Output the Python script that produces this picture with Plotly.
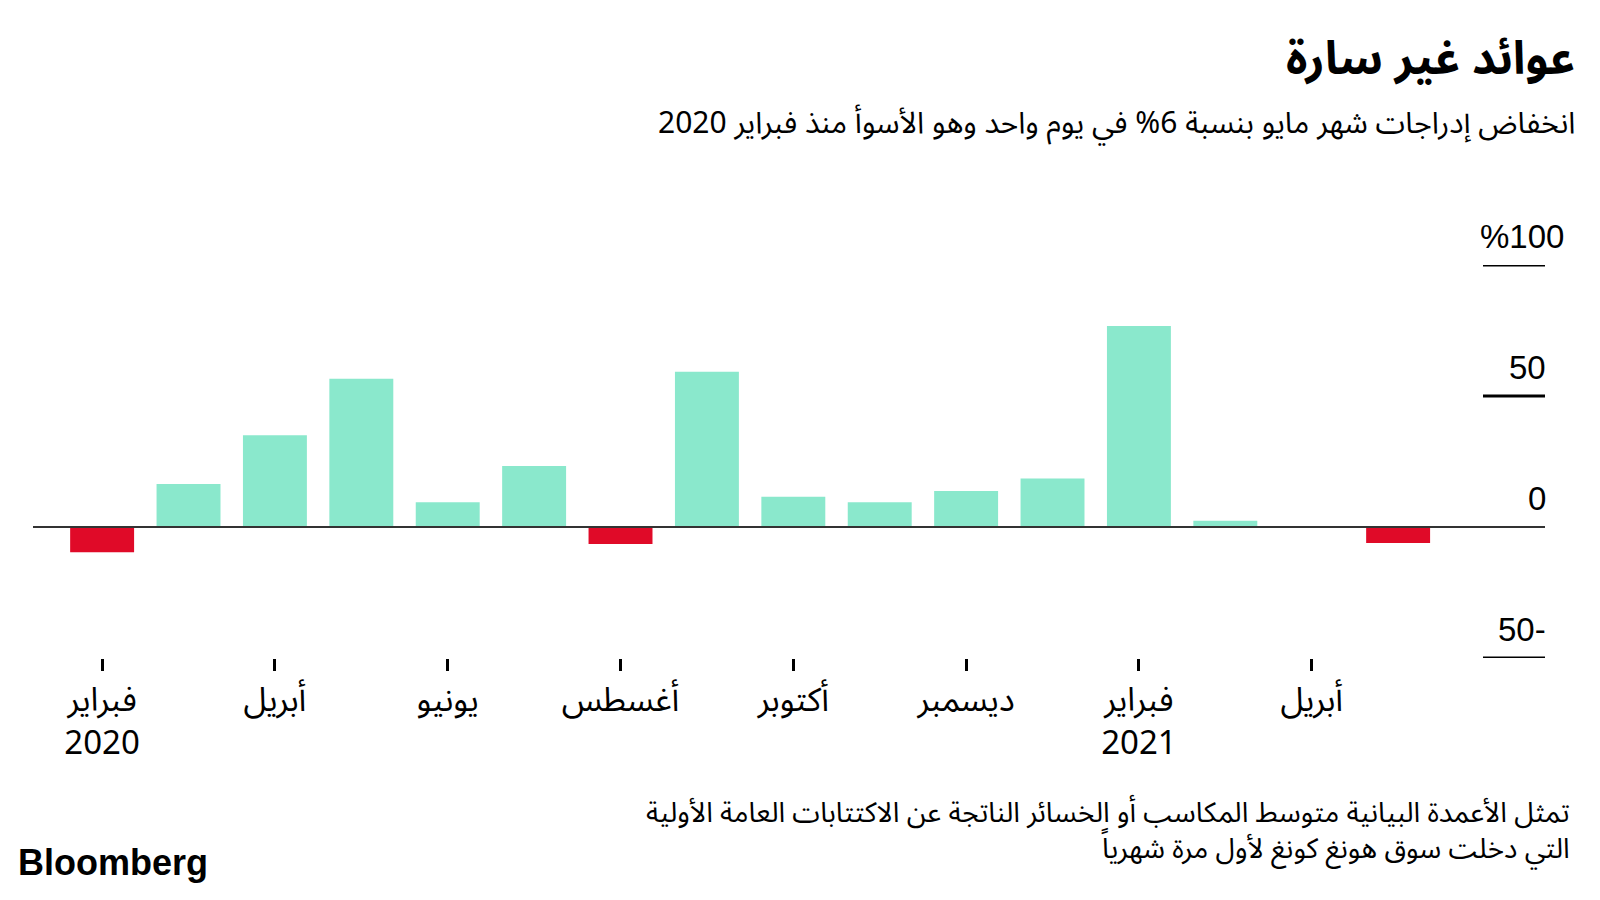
import plotly.graph_objects as go

# ---- data ----
months = ["2020-02", "2020-03", "2020-04", "2020-05", "2020-06", "2020-07", "2020-08",
          "2020-09", "2020-10", "2020-11", "2020-12", "2021-01", "2021-02", "2021-03",
          "2021-04", "2021-05"]
returns = [-9.6, 16.4, 35.0, 56.6, 9.4, 23.3, -6.5, 59.3, 11.5, 9.4, 13.7, 18.5, 76.7, 2.4, 0.0, -6.1]

tick_months = ["2020-02", "2020-04", "2020-06", "2020-08", "2020-10", "2020-12", "2021-02", "2021-04"]
tick_labels = ["فبراير<br>2020", "أبريل", "يونيو", "أغسطس", "أكتوبر", "ديسمبر", "فبراير<br>2021", "أبريل"]

y_ticks = [100, 50, 0, -50]
y_tick_labels = ["%100", "50", "0", "50-"]

title = "عوائد غير سارة"
subtitle = "انخفاض إدراجات شهر مايو بنسبة 6% في يوم واحد وهو الأسوأ منذ فبراير 2020"
note_1 = "تمثل الأعمدة البيانية متوسط المكاسب أو الخسائر الناتجة عن الاكتتابات العامة الأولية"
note_2 = "التي دخلت سوق هونغ كونغ لأول مرة شهرياً"

TEAL = "#8AE8CC"
RED = "#E00A28"
AR_FONT = "Noto Sans Arabic, DejaVu Sans, sans-serif"
NUM_FONT = "Liberation Sans, Arial, sans-serif"

colors = [RED if v < 0 else TEAL for v in returns]

fig = go.Figure(go.Bar(x=months, y=returns, marker=dict(color=colors, line=dict(width=0)),
                       hoverinfo="skip"))

L, R, T, B = 33, 55, 265, 242
W, H = 1600, 900

fig.update_layout(
    width=W, height=H,
    margin=dict(l=L, r=R, t=T, b=B),
    paper_bgcolor="white", plot_bgcolor="white",
    bargap=0.26,
    showlegend=False,
    font=dict(family=AR_FONT, color="black"),
)

fig.update_xaxes(
    type="category",
    categoryorder="array", categoryarray=months,
    range=[-0.8, 16.7],
    tickmode="array", tickvals=tick_months, ticktext=tick_labels,
    ticks="outside", ticklen=12, tickwidth=3, tickcolor="black",
    tickfont=dict(family=AR_FONT, size=33, color="black"),
    showgrid=False, showline=False, zeroline=False,
)
fig.update_yaxes(
    range=[-50, 100],
    showticklabels=False, showgrid=False, zeroline=False, showline=False,
)

shapes = []
annotations = []
for v, lab in zip(y_ticks, y_tick_labels):
    if v == 0:
        shapes.append(dict(type="line", xref="paper", yref="y", x0=0, x1=1, y0=0, y1=0,
                           line=dict(color="#333333", width=2), layer="above"))
    else:
        shapes.append(dict(type="line", xref="paper", yref="y", x0=(1483 - L) / (W - L - R), x1=1,
                           y0=v, y1=v, line=dict(color="black", width=3), layer="above"))
    annotations.append(dict(
        text=lab, xref="paper", yref="y", x=(1566 - L) / (W - L - R) if lab.startswith("%") else 1.002,
        y=v, xanchor="right", yanchor="bottom", yshift=8, showarrow=False,
        font=dict(family=NUM_FONT, size=33, color="black"),
    ))

# title, subtitle, footnotes, logo
annotations += [
    dict(text="<b>" + title + "</b>", xref="paper", yref="paper", x=(1577 - L) / (W - L - R),
         y=1 + (T - 59) / (H - T - B), xanchor="right", yanchor="middle", showarrow=False,
         font=dict(family=AR_FONT, size=46, color="black")),
    dict(text=subtitle, xref="paper", yref="paper", x=(1577 - L) / (W - L - R),
         y=1 + (T - 124) / (H - T - B), xanchor="right", yanchor="middle", showarrow=False,
         font=dict(family=AR_FONT, size=30, color="black")),
    dict(text=note_1 + "<br>" + note_2, xref="paper", yref="paper", x=(1572 - L) / (W - L - R),
         y=-(831 - (H - B)) / (H - T - B), xanchor="right", yanchor="middle", align="right",
         showarrow=False,
         font=dict(family=AR_FONT, size=28, color="black")),
    dict(text="<b>Bloomberg</b>", xref="paper", yref="paper", x=(16 - L) / (W - L - R),
         y=-(862 - (H - B)) / (H - T - B), xanchor="left", yanchor="middle", showarrow=False,
         font=dict(family=NUM_FONT, size=36, color="black")),
]

fig.update_layout(shapes=shapes, annotations=annotations)
fig.write_html("out.html")
